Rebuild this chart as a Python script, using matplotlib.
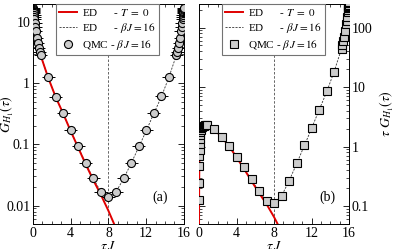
import numpy as np
import matplotlib
matplotlib.use('Agg')
import matplotlib.pyplot as plt
from matplotlib.lines import Line2D
from matplotlib.ticker import MultipleLocator, LogLocator, NullFormatter

plt.rcParams['font.family'] = ['Liberation Serif', 'DejaVu Serif']
plt.rcParams['mathtext.fontset'] = 'stix'

# QMC data, beta J = 16
tau_qmc = [0.0075, 0.015, 0.03, 0.045, 0.06, 0.08, 0.1, 0.125, 0.15, 0.2, 0.25, 0.3, 0.4, 0.5, 0.6, 0.7, 0.8,
           1.6, 2.4, 3.2, 4.0, 4.8, 5.6, 6.4, 7.2, 8.0, 8.8, 9.6, 10.4, 11.2, 12.0, 12.8, 13.6, 14.4,
           15.2, 15.3, 15.4, 15.5, 15.6, 15.7, 15.75, 15.8, 15.85, 15.875, 15.9, 15.92, 15.94, 15.955, 15.97, 15.985, 15.9925]
g_qmc = [17.0, 16.6, 16.0, 15.3, 14.7, 14.0, 13.2, 12.3, 11.5, 9.6, 8.3, 7.2, 5.6, 4.5, 3.8, 3.3, 2.9,
         1.25, 0.61, 0.325, 0.17, 0.094, 0.05, 0.028, 0.017, 0.014, 0.0165, 0.028, 0.05, 0.094, 0.17, 0.325, 0.62, 1.25,
         2.9, 3.3, 3.8, 4.5, 5.6, 7.2, 8.3, 9.6, 11.5, 12.3, 13.2, 14.0, 14.7, 15.3, 16.0, 16.6, 17.0]

# ED, T = 0
tau_ed0 = [0.002, 0.0075, 0.03, 0.06, 0.1, 0.15, 0.2, 0.3, 0.4, 0.5, 0.6, 0.8,
           1.6, 2.4, 3.2, 4.0, 4.8, 5.6, 6.4, 7.2, 8.0, 8.6]
g_ed0 = [17.2, 17.0, 16.0, 14.7, 13.2, 11.5, 9.6, 7.2, 5.6, 4.5, 3.8, 2.9,
         1.25, 0.6, 0.32, 0.165, 0.088, 0.047, 0.026, 0.0150, 0.0082, 0.0050]

# ED, beta J = 16
tau_edb = [0.0075, 0.03, 0.06, 0.1, 0.15, 0.2, 0.3, 0.4, 0.5, 0.6, 0.8,
           1.6, 2.4, 3.2, 4.0, 4.8, 5.6, 6.4, 7.2, 8.0, 8.8, 9.6, 10.4, 11.2, 12.0, 12.8, 13.6, 14.4,
           15.2, 15.4, 15.5, 15.6, 15.7, 15.8, 15.85, 15.9, 15.94, 15.97, 15.9925]
g_edb = [17.0, 16.0, 14.7, 13.2, 11.5, 9.6, 7.2, 5.6, 4.5, 3.8, 2.9,
         1.25, 0.6, 0.32, 0.167, 0.09, 0.049, 0.0275, 0.0168, 0.0138, 0.0168, 0.0275, 0.049, 0.09, 0.167, 0.32, 0.6, 1.25,
         2.9, 3.8, 4.5, 5.6, 7.2, 9.6, 11.5, 13.2, 14.7, 16.0, 17.0]

xerr_qmc = 0.7

fig = plt.figure(figsize=(3.93, 2.49), dpi=100)
ax1 = fig.add_axes([0.084, 0.1004, 0.384, 0.884])
ax2 = fig.add_axes([0.5064, 0.1004, 0.3817, 0.884])

tq = np.array(tau_qmc)
gq = np.array(g_qmc)
t0 = np.array(tau_ed0)
g0 = np.array(g_ed0)
tb = np.array(tau_edb)
gb = np.array(g_edb)

lab_ed0 = r'ED      - $T\ =\ 0$'
lab_edb = r'ED      - $\beta\, J = 16$'
lab_qmc = r'QMC - $\beta\, J = 16$'

red = '#e00000'
ed_style = dict(color='0.2', ls=(0, (2.5, 1.5)), lw=0.6)
mk_style = dict(mfc='#cccccc', mec='black', mew=0.8)

# panel (a)
ax1.axvline(8, color='0.3', ls=(0, (3, 2)), lw=0.6, zorder=1)
ax1.plot(tb, gb, zorder=2, **ed_style)
ax1.plot(t0, g0, color=red, lw=1.4, zorder=3)
ax1.errorbar(tq, gq, xerr=xerr_qmc, fmt='o', ms=5.8, ecolor='black', elinewidth=0.7,
             capsize=0, zorder=4, **mk_style)

# panel (b)
ax2.axvline(8, color='0.3', ls=(0, (3, 2)), lw=0.6, zorder=1)
ax2.plot(tb, tb * gb, zorder=2, **ed_style)
ax2.plot(t0, t0 * g0, color=red, lw=1.4, zorder=3)
ax2.plot(tq, tq * gq, 's', ms=5.2, zorder=4, **mk_style)

for ax, mk in ((ax1, 'o'), (ax2, 's')):
    ax.set_yscale('log')
    ax.set_xlim(0, 16)
    ax.xaxis.set_major_locator(MultipleLocator(4))
    ax.xaxis.set_minor_locator(MultipleLocator(1))
    ax.yaxis.set_minor_locator(LogLocator(base=10, subs=np.arange(2, 10)))
    ax.yaxis.set_minor_formatter(NullFormatter())
    ax.tick_params(which='both', direction='in', top=True, right=True, left=True, bottom=True,
                   labelsize=10, pad=2)
    ax.tick_params(which='major', length=4, width=0.6)
    ax.tick_params(which='minor', length=2, width=0.5)
    for s in ax.spines.values():
        s.set_linewidth(0.7)
    ax.set_xlabel(r'$\tau\, J$', fontsize=10, labelpad=0.5)
    handles = [Line2D([], [], color=red, lw=1.4),
               Line2D([], [], **ed_style),
               Line2D([], [], ls='none', marker=mk, ms=5.8 if mk == 'o' else 5.2, **mk_style)]
    leg = ax.legend(handles, [lab_ed0, lab_edb, lab_qmc],
                    loc='upper left', bbox_to_anchor=(0.15, 1.0), fontsize=8,
                    frameon=True, fancybox=False, edgecolor='0.45', framealpha=1,
                    handlelength=1.6, handletextpad=0.5, borderpad=0.3, labelspacing=0.25,
                    borderaxespad=0.0)
    leg.get_frame().set_linewidth(0.8)

ax1.set_ylim(0.005, 20)
ax1.set_yticks([0.01, 0.1, 1, 10])
ax1.set_yticklabels(['0.01', '0.1', '1', '10'])
ax1.set_ylabel(r'$G_{H_1}(\tau)$', fontsize=10)
ax1.yaxis.set_label_coords(-0.112, 0.5)
ax1.text(0.84, 0.12, '(a)', transform=ax1.transAxes, fontsize=10, ha='center', va='center')

ax2.set_ylim(0.05, 250)
ax2.set_yticks([0.1, 1, 10, 100])
ax2.set_yticklabels(['0.1', '1', '10', '100'])
ax2.tick_params(labelleft=False, labelright=True)
ax2.yaxis.set_label_position('right')
ax2.set_ylabel(r'$\tau\ G_{H_1}(\tau)$', fontsize=10, rotation=90)
ax2.yaxis.set_label_coords(1.19, 0.5)
ax2.text(0.853, 0.12, '(b)', transform=ax2.transAxes, fontsize=10, ha='center', va='center')

fig.savefig('out.png', dpi=100)
